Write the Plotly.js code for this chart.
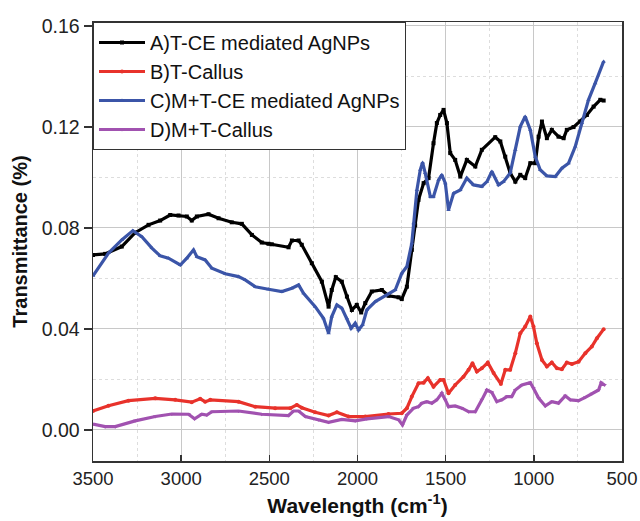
<!DOCTYPE html>
<html>
<head>
<meta charset="utf-8">
<script src="https://cdn.plot.ly/plotly-3.0.1.min.js"></script>
<style>html,body{margin:0;padding:0;background:#fff;}#chart{width:640px;height:521px;}</style>
</head>
<body>
<div id="chart"></div>
<script>
// Series A: T-CE mediated AgNPs
var waveA = [3500,3431,3337,3261,3185,3119,3062,3015,2968,2940,2911,2845,2788,2713,2656,2599,2543,2505,2486,2391,2372,2334,2316,2259,2202,2164,2146,2123,2089,2060,2032,2004,1979,1956,1919,1862,1824,1767,1749,1720,1692,1673,1654,1625,1597,1569,1550,1531,1512,1493,1474,1446,1417,1380,1332,1295,1219,1190,1162,1134,1105,1077,1049,1020,992,973,954,926,898,860,831,813,775,737,699,661,623,604];
var transA = [0.0693,0.0697,0.0726,0.0781,0.0812,0.0829,0.0851,0.0849,0.0845,0.0829,0.0845,0.0854,0.0838,0.0822,0.0816,0.0772,0.0742,0.0737,0.0735,0.0723,0.0750,0.0750,0.0733,0.0660,0.0587,0.0488,0.0554,0.0605,0.0587,0.0528,0.0475,0.0495,0.0465,0.0502,0.0548,0.0554,0.0531,0.0525,0.0518,0.0567,0.0713,0.0810,0.0911,0.0977,0.0997,0.1135,0.1215,0.1247,0.1267,0.1215,0.1096,0.1069,0.1003,0.1069,0.1043,0.1109,0.1159,0.1142,0.1082,0.1017,0.0983,0.1010,0.0997,0.1056,0.1056,0.1161,0.1221,0.1155,0.1188,0.1161,0.1155,0.1188,0.1199,0.1221,0.1247,0.1280,0.1307,0.1304];

// Series B: T-Callus
var waveB = [3500,3412,3299,3147,3034,2940,2892,2864,2835,2675,2580,2467,2381,2344,2316,2240,2164,2117,2051,1956,1824,1749,1720,1692,1654,1625,1601,1569,1531,1512,1484,1446,1399,1370,1348,1323,1295,1261,1228,1187,1162,1134,1105,1077,1049,1020,1002,983,954,926,898,869,841,813,784,746,708,671,642,604];
var transB = [0.0075,0.0096,0.0116,0.0125,0.0119,0.0110,0.0123,0.0112,0.0119,0.0112,0.0092,0.0086,0.0086,0.0099,0.0088,0.0070,0.0057,0.0070,0.0053,0.0053,0.0063,0.0066,0.0086,0.0132,0.0185,0.0187,0.0205,0.0171,0.0198,0.0198,0.0145,0.0178,0.0211,0.0238,0.0264,0.0231,0.0244,0.0267,0.0225,0.0182,0.0238,0.0238,0.0304,0.0383,0.0409,0.0449,0.0409,0.0343,0.0277,0.0251,0.0267,0.0244,0.0240,0.0267,0.0261,0.0270,0.0304,0.0330,0.0363,0.0399];

// Series C: M+T-CE mediated AgNPs
var waveC = [3500,3412,3337,3274,3223,3166,3119,3072,3005,2968,2930,2911,2864,2826,2750,2675,2637,2580,2505,2429,2372,2334,2306,2240,2193,2164,2146,2117,2089,2060,2036,2013,1994,1971,1947,1899,1843,1786,1749,1720,1692,1682,1663,1644,1631,1616,1587,1569,1540,1522,1502,1484,1455,1417,1380,1342,1295,1266,1238,1200,1172,1134,1105,1077,1049,1020,992,964,926,878,841,803,765,728,690,652,604];
var transC = [0.0610,0.0700,0.0752,0.0789,0.0765,0.0720,0.0689,0.0680,0.0653,0.0680,0.0713,0.0686,0.0673,0.0640,0.0618,0.0607,0.0594,0.0567,0.0557,0.0548,0.0561,0.0574,0.0541,0.0488,0.0442,0.0383,0.0449,0.0495,0.0482,0.0442,0.0403,0.0423,0.0396,0.0416,0.0475,0.0508,0.0531,0.0554,0.0620,0.0647,0.0739,0.0818,0.0950,0.1030,0.1059,0.1017,0.0924,0.0924,0.0990,0.1010,0.0977,0.0871,0.0937,0.0950,0.0997,0.0970,0.0964,0.0983,0.1023,0.0970,0.0983,0.1017,0.1109,0.1201,0.1241,0.1188,0.1082,0.1030,0.1006,0.1003,0.1036,0.1056,0.1122,0.1215,0.1307,0.1373,0.1459];

// Series D: M+T-Callus
var waveD = [3500,3431,3374,3261,3147,3053,2958,2924,2883,2855,2826,2675,2543,2391,2363,2334,2296,2221,2164,2089,2013,1947,1824,1767,1745,1720,1682,1654,1635,1607,1578,1550,1522,1502,1484,1446,1408,1370,1332,1295,1266,1238,1210,1181,1153,1125,1105,1068,1020,1002,973,935,898,860,822,793,746,708,671,633,618,599];
var transD = [0.0023,0.0013,0.0013,0.0036,0.0053,0.0063,0.0062,0.0044,0.0062,0.0059,0.0072,0.0075,0.0062,0.0057,0.0075,0.0075,0.0053,0.0040,0.0030,0.0042,0.0036,0.0044,0.0053,0.0040,0.0020,0.0059,0.0086,0.0092,0.0106,0.0112,0.0106,0.0119,0.0145,0.0119,0.0092,0.0095,0.0086,0.0072,0.0072,0.0119,0.0158,0.0148,0.0112,0.0119,0.0132,0.0132,0.0158,0.0178,0.0187,0.0165,0.0126,0.0095,0.0112,0.0106,0.0135,0.0119,0.0116,0.0129,0.0143,0.0158,0.0187,0.0178];

var seriesNames = ['A)T-CE mediated AgNPs','B)T-Callus','C)M+T-CE mediated AgNPs','D)M+T-Callus'];

function mk(x, y, name, color, symbol) {
  return {
    x: x, y: y, name: name, type: 'scatter', mode: 'lines+markers',
    line: {color: color, width: 3.2},
    marker: {color: color, size: 4, symbol: symbol},
    cliponaxis: true
  };
}

var traces = [
  mk(waveA, transA, seriesNames[0], '#000000', 'square'),
  mk(waveB, transB, seriesNames[1], '#e8322b', 'circle'),
  mk(waveC, transC, seriesNames[2], '#3b55a8', 'triangle-up'),
  mk(waveD, transD, seriesNames[3], '#a152b0', 'triangle-down')
];

var font = 'Liberation Sans, Arial, sans-serif';
var layout = {
  width: 640, height: 521,
  margin: {l: 93, r: 18, t: 22, b: 60},
  paper_bgcolor: '#ffffff', plot_bgcolor: '#ffffff',
  font: {family: font, size: 18, color: '#222'},
  showlegend: true,
  legend: {
    x: 0, y: 1, xanchor: 'left', yanchor: 'top',
    bgcolor: '#ffffff', bordercolor: '#333', borderwidth: 1,
    font: {family: font, size: 20, color: '#111'},
    itemwidth: 46,
    tracegroupgap: 0
  },
  xaxis: {
    range: [3500, 500],
    dtick: 500, tick0: 500,
    ticks: 'inside', ticklen: 6, tickwidth: 1.5, tickcolor: '#333',
    showline: true, linecolor: '#333', linewidth: 1.5, mirror: true,
    showgrid: true, gridcolor: '#c8c8c8', gridwidth: 1,
    minor: {dtick: 250, showgrid: true, gridcolor: '#dddddd', griddash: 'dot', ticks: ''},
    zeroline: false,
    tickfont: {family: font, size: 18.5, color: '#222'},
    title: {text: '<b>Wavelength (cm<sup>-1</sup>)</b>', font: {family: font, size: 21, color: '#111'}, standoff: 10}
  },
  yaxis: {
    range: [-0.0123, 0.1615],
    dtick: 0.04, tick0: 0,
    tickformat: '.2f',
    ticks: 'outside', ticklen: 8, tickwidth: 1.5, tickcolor: '#333',
    showline: true, linecolor: '#333', linewidth: 1.5, mirror: true,
    showgrid: true, gridcolor: '#c8c8c8', gridwidth: 1,
    minor: {dtick: 0.02, showgrid: true, gridcolor: '#dddddd', griddash: 'dot', ticks: ''},
    zeroline: false,
    tickfont: {family: font, size: 19.5, color: '#222'},
    title: {text: '<b>Transmittance (%)</b>', font: {family: font, size: 20, color: '#111'}, standoff: 8}
  }
};

Plotly.newPlot('chart', traces, layout, {displayModeBar: false, staticPlot: true});
</script>
</body>
</html>
